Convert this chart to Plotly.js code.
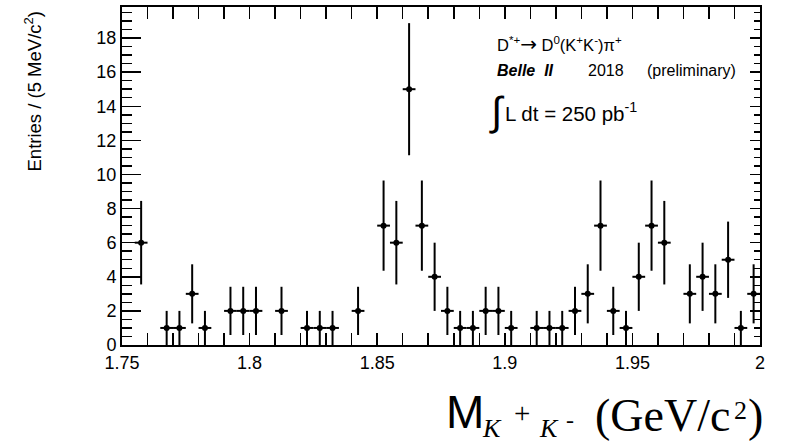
<!DOCTYPE html>
<html>
<head>
<meta charset="utf-8">
<script src="https://cdn.plot.ly/plotly-3.0.1.min.js"></script>
<style>html,body{margin:0;padding:0;background:#fff;}#chart{width:785px;height:442px;}</style>
</head>
<body>
<div id="chart"></div>
<script>
// ---- data ----
const massBinCenters = [1.7525,1.7575,1.7625,1.7675,1.7725,1.7775,1.7825,1.7875,1.7925,1.7975,
                        1.8025,1.8075,1.8125,1.8175,1.8225,1.8275,1.8325,1.8375,1.8425,1.8475,
                        1.8525,1.8575,1.8625,1.8675,1.8725,1.8775,1.8825,1.8875,1.8925,1.8975,
                        1.9025,1.9075,1.9125,1.9175,1.9225,1.9275,1.9325,1.9375,1.9425,1.9475,
                        1.9525,1.9575,1.9625,1.9675,1.9725,1.9775,1.9825,1.9875,1.9925,1.9975];
const entries = [0,6,0,1,1,3,1,0,2,2,
                 2,0,2,0,1,1,1,0,2,0,
                 7,6,15,7,4,2,1,1,2,2,
                 1,0,1,1,1,2,3,7,2,1,
                 4,7,6,0,3,4,3,5,1,3];
const halfBinWidth = 0.0025;
const xTickVals = [1.75,1.8,1.85,1.9,1.95,2];
const xTickText = ["1.75","1.8","1.85","1.9","1.95","2"];
const yTickVals = [0,2,4,6,8,10,12,14,16,18];
const yTickText = ["0","2","4","6","8","10","12","14","16","18"];

// ---- build trace (empty bins are not drawn) ----
const xs = [], ys = [], ey = [], ex = [];
massBinCenters.forEach((m, i) => {
  if (entries[i] > 0) {
    xs.push(m); ys.push(entries[i]);
    ey.push(Math.sqrt(entries[i])); ex.push(halfBinWidth);
  }
});

const L = 122, R = 760, T = 7, B = 345;
const px = x => (x - L) / (R - L);
const py = y => (B - y) / (B - T);
const SANS = "Liberation Sans, Arial, sans-serif";
const SERIF = "Liberation Serif, Times New Roman, serif";

function ann(text, x, y, size, family, extra) {
  return Object.assign({
    text: text, x: px(x), y: py(y), xref: "paper", yref: "paper",
    xanchor: "left", yanchor: "middle", showarrow: false,
    font: {family: family || SANS, size: size, color: "#000"}, borderpad: 0
  }, extra || {});
}

const trace = {
  type: "scatter", mode: "markers", x: xs, y: ys,
  marker: {color: "#000", size: 6, symbol: "circle"},
  error_y: {type: "data", array: ey, visible: true, color: "#000", thickness: 2, width: 0},
  error_x: {type: "data", array: ex, visible: true, color: "#000", thickness: 2, width: 0},
  hoverinfo: "skip", showlegend: false
};
// empty helper trace so the right-hand tick axis (y2) gets drawn
const rightAxisHolder = {type: "scatter", mode: "markers", x: [], y: [], yaxis: "y2", hoverinfo: "skip", showlegend: false};

const yRange = [0, 19.82];
const layout = {
  width: 785, height: 442,
  margin: {l: L, r: 785 - R, t: T, b: 442 - B, pad: 0},
  paper_bgcolor: "#fff", plot_bgcolor: "#fff",
  showlegend: false,
  xaxis: {
    range: [1.75, 2], showgrid: false, zeroline: false,
    showline: true, linecolor: "#000", linewidth: 2, mirror: "allticks",
    ticks: "inside", ticklen: 12, tickwidth: 1.5, tickcolor: "#000",
    tickvals: xTickVals, ticktext: xTickText,
    minor: {dtick: 0.01, tick0: 1.75, ticks: "inside", ticklen: 6, tickwidth: 1.5, tickcolor: "#000", showgrid: false},
    tickfont: {family: SANS, size: 18, color: "#000"}
  },
  yaxis: {
    range: yRange, showgrid: false, zeroline: false,
    showline: true, linecolor: "#000", linewidth: 2, mirror: true,
    ticks: "inside", ticklen: 19, tickwidth: 1.5, tickcolor: "#000",
    tickvals: yTickVals, ticktext: yTickText,
    minor: {dtick: 0.5, tick0: 0, ticks: "inside", ticklen: 10, tickwidth: 1.5, tickcolor: "#000", showgrid: false},
    tickfont: {family: SANS, size: 18, color: "#000"}
  },
  yaxis2: {
    overlaying: "y", side: "right", anchor: "x",
    range: yRange, showgrid: false, zeroline: false, showline: false,
    ticks: "inside", ticklen: 10, tickwidth: 1.5, tickcolor: "#000",
    tickvals: yTickVals, showticklabels: false,
    minor: {dtick: 0.5, tick0: 0, ticks: "inside", ticklen: 6, tickwidth: 1.5, tickcolor: "#000", showgrid: false}
  },
  annotations: [
    // y-axis title
    ann("Entries / (5 MeV/c<sup>2</sup>)", 33, 91.5, 18.5, SANS, {textangle: -90, xanchor: "center"}),
    // legend-like text block
    ann("D<sup>*+</sup><span style='font-family:DejaVu Sans;font-size:20px'>→</span> D<sup>0</sup>(K<sup>+</sup>K<sup>-</sup>)π<sup>+</sup>", 496, 44, 16.5),
    ann("<b><i>Belle  II</i></b>", 496, 71, 16),
    ann("2018", 587, 71, 16),
    ann("(preliminary)", 646, 71, 16),
    ann("∫", 488, 111, 40),
    ann("L dt = 250 pb<sup>-1</sup>", 504, 112, 20.5),
    // x-axis title pieces
    ann("M", 445, 411.5, 46, SANS),
    ann("<i>K</i>", 481, 428.5, 26, SERIF),
    ann("+", 513, 413, 29, SERIF),
    ann("<i>K</i>", 538, 428.5, 26, SERIF),
    ann("-", 565, 420, 24, SERIF),
    ann("(GeV/c", 594, 415, 46, SERIF),
    ann("2", 733, 411, 26, SERIF),
    ann(")", 747, 415, 46, SERIF)
  ]
};

Plotly.newPlot("chart", [trace, rightAxisHolder], layout, {displayModeBar: false, staticPlot: true});
</script>
</body>
</html>
